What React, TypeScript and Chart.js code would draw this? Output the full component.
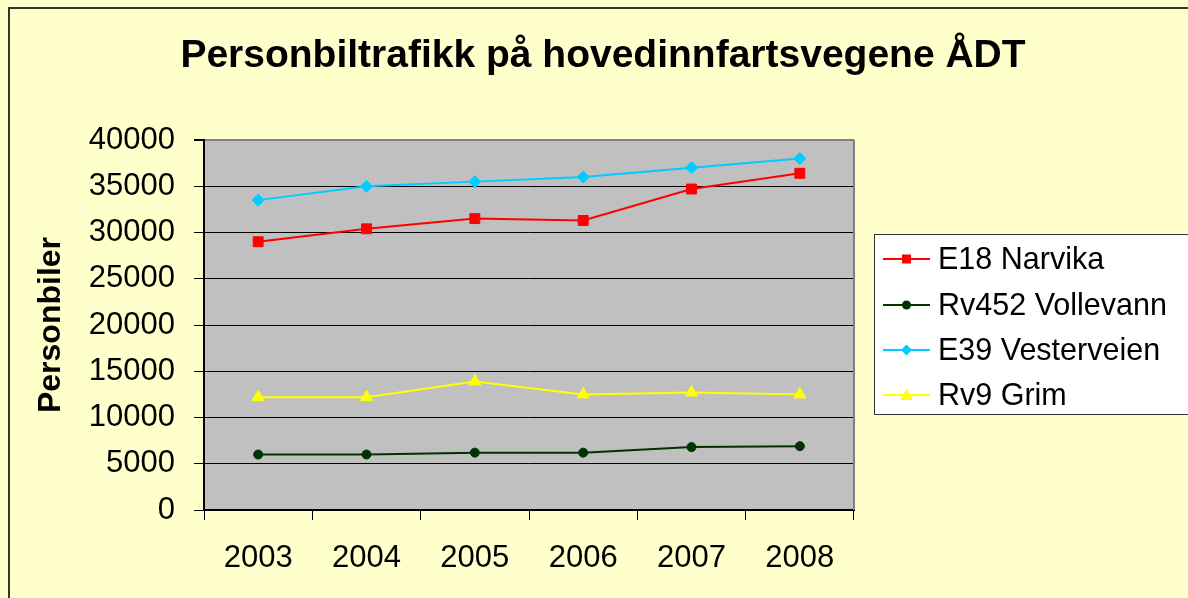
import React, { useEffect, useRef } from "react";
import { Chart, registerables } from "chart.js";

Chart.register(...registerables);

const years = ["2003", "2004", "2005", "2006", "2007", "2008"];
const e18Narvika = [29000, 30400, 31500, 31300, 34700, 36400];
const rv452Vollevann = [6000, 6000, 6200, 6200, 6800, 6900];
const e39Vesterveien = [33500, 35000, 35500, 36000, 37000, 38000];
const rv9Grim = [12200, 12200, 13900, 12500, 12700, 12500];

const titleText = "Personbiltrafikk på hovedinnfartsvegene ÅDT";
const yTitle = "Personbiler";

const FONT = '"Liberation Sans", Arial, sans-serif';

type Marker = "rect" | "circle" | "rectRot" | "triangle";

const seriesStyles: { label: string; data: number[]; color: string; marker: Marker; radius: number }[] = [
  { label: "E18 Narvika", data: e18Narvika, color: "#FF0000", marker: "rect", radius: 7 },
  { label: "Rv452 Vollevann", data: rv452Vollevann, color: "#003300", marker: "circle", radius: 4.5 },
  { label: "E39 Vesterveien", data: e39Vesterveien, color: "#00CCFF", marker: "rectRot", radius: 6 },
  { label: "Rv9 Grim", data: rv9Grim, color: "#FFFF00", marker: "triangle", radius: 7 },
];

function drawMarker(ctx: CanvasRenderingContext2D, m: Marker, x: number, y: number, color: string) {
  ctx.save();
  ctx.fillStyle = color;
  ctx.beginPath();
  if (m === "rect") {
    ctx.rect(x - 4.5, y - 4.5, 9, 9);
  } else if (m === "circle") {
    ctx.arc(x, y, 4.5, 0, Math.PI * 2);
  } else if (m === "rectRot") {
    ctx.moveTo(x, y - 5.5);
    ctx.lineTo(x + 5.5, y);
    ctx.lineTo(x, y + 5.5);
    ctx.lineTo(x - 5.5, y);
    ctx.closePath();
  } else {
    ctx.moveTo(x, y - 6);
    ctx.lineTo(x + 6.5, y + 5);
    ctx.lineTo(x - 6.5, y + 5);
    ctx.closePath();
  }
  ctx.fill();
  ctx.restore();
}

const decorPlugin = {
  id: "decor",
  beforeDraw(chart: any) {
    const { ctx, width, height, chartArea } = chart;
    ctx.save();
    ctx.fillStyle = "#FFFFCC";
    ctx.fillRect(0, 0, width, height);
    ctx.strokeStyle = "#333333";
    ctx.lineWidth = 2;
    ctx.strokeRect(9, 8, width + 20, height + 20);
    ctx.fillStyle = "#C0C0C0";
    ctx.fillRect(chartArea.left, chartArea.top, chartArea.right - chartArea.left, chartArea.bottom - chartArea.top);
    ctx.restore();
  },
  beforeDatasetsDraw(chart: any) {
    const { ctx, chartArea } = chart;
    ctx.save();
    ctx.strokeStyle = "#808080";
    ctx.lineWidth = 2;
    ctx.beginPath();
    ctx.moveTo(chartArea.right, chartArea.top);
    ctx.lineTo(chartArea.right, chartArea.bottom);
    ctx.stroke();
    ctx.restore();
  },
  afterDraw(chart: any) {
    const { ctx } = chart;
    ctx.save();
    // title
    ctx.fillStyle = "#000";
    ctx.font = `bold 39px ${FONT}`;
    ctx.textAlign = "center";
    ctx.textBaseline = "alphabetic";
    ctx.fillText(titleText, 603, 67);
    // legend box
    ctx.fillStyle = "#FFFFFF";
    ctx.fillRect(874, 234, 330, 180);
    ctx.strokeStyle = "#333333";
    ctx.lineWidth = 1;
    ctx.strokeRect(874.5, 234.5, 330, 180);
    const baselines = [269, 315, 360, 405];
    chart.data.datasets.forEach((ds: any, i: number) => {
      const st = seriesStyles[i];
      const b = baselines[i];
      const cy = b - 10;
      ctx.strokeStyle = st.color;
      ctx.lineWidth = 2;
      ctx.beginPath();
      ctx.moveTo(883, cy);
      ctx.lineTo(930, cy);
      ctx.stroke();
      drawMarker(ctx, st.marker, 906.5, cy, st.color);
      ctx.fillStyle = "#000";
      ctx.font = `30.5px ${FONT}`;
      ctx.textAlign = "left";
      ctx.fillText(ds.label, 938, b);
    });
    ctx.restore();
  },
};

export default function App() {
  const ref = useRef<HTMLCanvasElement>(null);
  useEffect(() => {
    if (!ref.current) return;
    const chart = new Chart(ref.current, {
      type: "line",
      data: {
        labels: years,
        datasets: seriesStyles.map((s) => ({
          label: s.label,
          data: s.data,
          borderColor: s.color,
          backgroundColor: s.color,
          pointBackgroundColor: s.color,
          pointBorderColor: s.color,
          pointBorderWidth: 1,
          pointStyle: s.marker,
          pointRadius: s.radius,
          borderWidth: 2,
          tension: 0,
          fill: false,
        })),
      },
      options: {
        responsive: false,
        animation: false,
        layout: { padding: { left: 0, top: 140, right: 334, bottom: 0 } },
        plugins: {
          legend: { display: false },
          title: { display: false },
          tooltip: { enabled: false },
        },
        scales: {
          x: {
            type: "category",
            offset: true,
            grid: { offset: true, drawOnChartArea: false, tickLength: 10, color: "#000", lineWidth: 1 },
            border: { color: "#000", width: 2 },
            ticks: { color: "#000", font: { size: 31, family: FONT }, padding: 20, maxRotation: 0 },
            afterFit: (s: any) => {
              s.height = 88;
            },
          },
          y: {
            min: 0,
            max: 40000,
            ticks: {
              stepSize: 5000,
              color: "#000",
              font: { size: 31, family: FONT },
              padding: 19,
              callback: (v: any) => String(v),
            },
            grid: {
              color: (c: any) => (c.tick && c.tick.value === 40000 ? "#808080" : "#000"),
              lineWidth: (c: any) => (c.tick && c.tick.value === 40000 ? 2 : 1),
              tickColor: "#000",
              tickLength: 10,
            },
            border: { color: "#000", width: 2 },
            title: {
              display: true,
              text: yTitle,
              color: "#000",
              font: { size: 32, weight: "bold", family: FONT },
              padding: { top: 32, bottom: 0 },
            },
            afterFit: (s: any) => {
              s.width = 204;
            },
          },
        },
      },
      plugins: [decorPlugin],
    } as any);
    return () => chart.destroy();
  }, []);
  return (
    <div style={{ position: "fixed", left: 0, top: 0, width: 1188, height: 598 }}>
      <canvas ref={ref} width={1188} height={598} style={{ width: 1188, height: 598, display: "block" }} />
    </div>
  );
}
